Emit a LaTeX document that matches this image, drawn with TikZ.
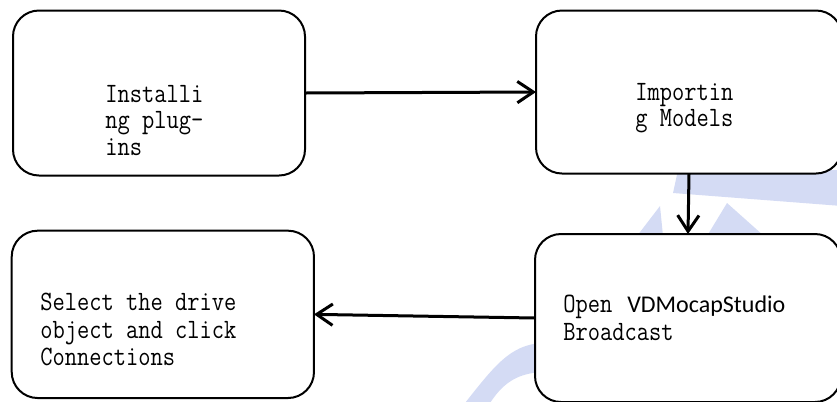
\documentclass[tikz,border=0pt]{standalone}
\usepackage{fontspec}
\usepackage{graphicx}
\usetikzlibrary{arrows.meta}
\newfontfamily\carlito{Carlito}
\definecolor{wm}{RGB}{212,219,244}
\newcommand\simt[1]{\scalebox{0.85}[1]{#1}}
\tikzset{
 box/.style={draw, line width=1.5pt, rounded corners=19.5pt, fill=white, inner sep=0pt, outer sep=0pt},
 conn/.style={line width=2.25pt, -{Straight Barb[length=12pt,width=16pt]}},
 txt/.style={anchor=base west, inner sep=0pt, font=\fontsize{21}{21}\selectfont\ttfamily},
 ctxt/.style={anchor=base west, inner sep=0pt, font=\fontsize{18}{18}\selectfont\carlito},
 wmark/.style={fill=wm, draw=none},
}
\begin{document}
\begin{tikzpicture}[x=0.75pt,y=-0.75pt]
\useasboundingbox (0,0) rectangle (837,401);
% watermark
\fill[wmark] (678,170) -- (842,170) -- (842,206) -- (673,193) -- cycle;
\fill[wmark] (707,236) -- (727,203) -- (764,236) -- cycle;
\fill[wmark] (637,236) -- (660,206) -- (663,236) -- cycle;
\fill[wmark] (465,403) .. controls (495,365) and (510,346) .. (540,343) -- (540,372) .. controls (520,374) and (505,380) .. (490,403) -- cycle;
% boxes
\node[box, minimum width=219pt, minimum height=123.75pt] (b1) at (159,93) {};
\node[box, minimum width=229.5pt, minimum height=122.25pt] (b2) at (689,92) {};
\node[box, minimum width=229.5pt, minimum height=126pt] (b3) at (688,318) {};
\node[box, minimum width=226.7pt, minimum height=125.5pt] (b4) at (162.85,314.35) {};
% texts
\node[txt] (t1a) at (105,102) {\simt{Installi}};
\node[txt] (t1b) at (105,128.5) {\simt{ng plug-}};
\node[txt] (t1c) at (105,155) {\simt{ins}};
\node[txt] (t2a) at (635,100) {\simt{Importin}};
\node[txt] (t2b) at (635,126.7) {\simt{g Models}};
\node[txt] (t3a) at (563,312) {\simt{Open}};
\node[ctxt] (t3b) at (627,312) {VDMocapStudio};
\node[txt] (t3c) at (563,340) {\simt{Broadcast}};
\node[txt] (t4a) at (40,310) {\simt{Select the drive}};
\node[txt] (t4b) at (40,338) {\simt{object and click}};
\node[txt] (t4c) at (40,365) {\simt{Connections}};
% connectors
\draw[conn] (b1.east) -- (b2.west);
\draw[conn] (b2.south) -- (b3.north);
\draw[conn] (b3.west) -- (b4.east);
\end{tikzpicture}
\end{document}
